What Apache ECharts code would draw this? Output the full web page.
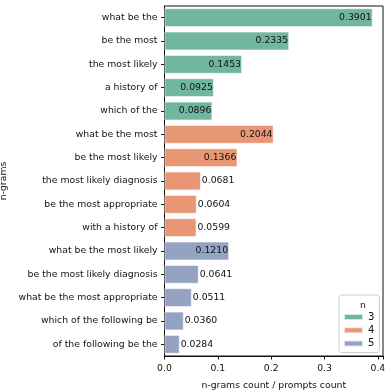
<!DOCTYPE html>
<html>
<head>
  <meta charset="UTF-8">
  <title>n-grams</title>
  <script src="https://cdn.jsdelivr.net/npm/echarts@6/dist/echarts.min.js"></script>
  <style>
    html, body { margin: 0; padding: 0; background: #fff; }
    #main { width: 392px; height: 392px; }
  </style>
</head>
<body>
<div id="main"></div>
<script type="text/javascript">
  var categories = [
    'what be the', 'be the most', 'the most likely', 'a history of', 'which of the',
    'what be the most', 'be the most likely', 'the most likely diagnosis',
    'be the most appropriate', 'with a history of',
    'what be the most likely', 'be the most likely diagnosis', 'what be the most appropriate',
    'which of the following be', 'of the following be the'
  ];
  var values = [0.3901, 0.2335, 0.1453, 0.0925, 0.0896,
                0.2044, 0.1366, 0.0681, 0.0604, 0.0599,
                0.1210, 0.0641, 0.0511, 0.0360, 0.0284];
  var groups = [3, 3, 3, 3, 3, 4, 4, 4, 4, 4, 5, 5, 5, 5, 5];
  var groupNames = ['3', '4', '5'];
  var xTicks = [0.0, 0.1, 0.2, 0.3, 0.4];

  var colors = ['#71b6a1', '#e99675', '#95a3c3'];
  var font = 'DejaVu Sans';
  var fs = 9.3;

  var series = groupNames.map(function(g, gi) {
    return {
      name: g,
      type: 'bar',
      barGap: '-100%',
      barCategoryGap: '20%',
      itemStyle: { color: colors[gi], borderColor: 'rgba(255,255,255,0.7)', borderWidth: 0.8 },
      data: values.map(function(v, i) {
        if (String(groups[i]) !== g) return null;
        var inside = v > 0.08;
        return {
          value: v,
          label: {
            show: true,
            position: inside ? 'insideRight' : 'right',
            distance: 1,
            formatter: v.toFixed(4),
            color: '#111',
            fontFamily: font,
            fontSize: fs
          }
        };
      })
    };
  });

  var option = {
    animation: false,
    grid: {
      left: 164.5, right: 9, top: 6, bottom: 36,
      outerBoundsMode: 'none',
      containLabel: false,
      show: true, borderColor: '#111', borderWidth: 1, backgroundColor: 'transparent'
    },
    title: {
      text: 'n',
      left: 355, top: 296,
      textStyle: { fontFamily: font, fontSize: fs, fontWeight: 'normal', color: '#111' }
    },
    legend: {
      data: groupNames,
      orient: 'vertical',
      left: 339, top: 295,
      padding: [16, 5, 3, 4],
      itemWidth: 19, itemHeight: 6, itemGap: 1.3,
      icon: 'rect',
      borderColor: '#ccc', borderWidth: 1, borderRadius: 3,
      backgroundColor: '#fff',
      textStyle: { fontFamily: font, fontSize: fs + 0.7, color: '#111', lineHeight: 12 }
    },
    xAxis: {
      type: 'value',
      min: 0,
      max: Math.max.apply(null, values) * 1.05,
      interval: 0.1,
      name: 'n-grams count / prompts count',
      nameLocation: 'middle',
      nameGap: 25,
      nameTextStyle: { fontFamily: font, fontSize: fs, color: '#111' },
      axisLine: { show: true, lineStyle: { color: '#111', width: 1 } },
      axisTick: { show: true, length: 3.5, lineStyle: { color: '#111' } },
      axisLabel: {
        fontFamily: font, fontSize: fs, color: '#111', margin: 8,
        showMaxLabel: true,
        formatter: function(v) {
          for (var i = 0; i < xTicks.length; i++) {
            if (Math.abs(v - xTicks[i]) < 1e-6) return xTicks[i].toFixed(1);
          }
          return '';
        }
      },
      splitLine: { show: false }
    },
    yAxis: {
      type: 'category',
      data: categories,
      inverse: true,
      name: 'n-grams',
      nameLocation: 'middle',
      nameGap: 150,
      nameRotate: 90,
      nameTextStyle: { fontFamily: font, fontSize: fs, color: '#111' },
      axisLine: { show: true, lineStyle: { color: '#111', width: 1 } },
      axisTick: { show: true, length: 3.5, alignWithLabel: true, lineStyle: { color: '#111' } },
      axisLabel: { fontFamily: font, fontSize: fs, color: '#111', margin: 7 },
      splitLine: { show: false }
    },
    series: series
  };

  var myChart = echarts.init(document.getElementById('main'));
  myChart.setOption(option);
</script>
</body>
</html>
